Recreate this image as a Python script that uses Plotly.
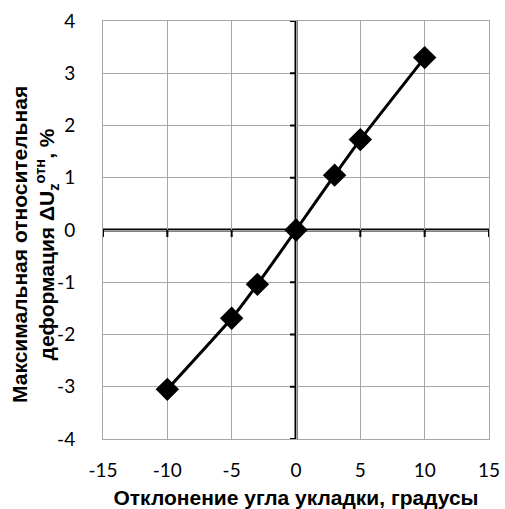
import plotly.graph_objects as go

x_vals = [-10, -5, -3, 0, 3, 5, 10]
y_vals = [-3.05, -1.69, -1.04, 0.0, 1.05, 1.73, 3.30]
x_ticks = [-15, -10, -5, 0, 5, 10, 15]
y_ticks = [-4, -3, -2, -1, 0, 1, 2, 3, 4]

x_title = "Отклонение угла укладки, градусы"
y_title = "Максимальная относительная<br>деформация ΔU<sub>z</sub><sup>отн</sup>, %"

tick_font = dict(family="Lato, Open Sans, sans-serif", size=19, color="#000")
title_font = dict(family="Liberation Sans, Arial, sans-serif", size=21, color="#000")

W, H = 505, 509
L, R, T, B = 103, 16, 21, 70

fig = go.Figure()
fig.add_trace(go.Scatter(
    x=x_vals, y=y_vals, mode="lines+markers",
    line=dict(color="#000", width=3, shape="spline", smoothing=0.4),
    marker=dict(symbol="diamond", size=18, color="#000"),
    showlegend=False,
))

shapes = []
for t in y_ticks:
    shapes.append(dict(type="line", xref="x", yref="y", xsizemode="pixel", xanchor=0,
                       x0=-6, x1=0, y0=t, y1=t, layer="between",
                       line=dict(color="#000", width=2)))
for t in x_ticks:
    shapes.append(dict(type="line", xref="x", yref="y", ysizemode="pixel", yanchor=0,
                       y0=-7, y1=0, x0=t, x1=t, layer="between",
                       line=dict(color="#000", width=2)))
# axes crossing at zero
shapes.append(dict(type="line", xref="x", yref="paper", x0=0, x1=0, y0=0, y1=1,
                   layer="between", line=dict(color="#000", width=3)))
shapes.append(dict(type="line", xref="paper", yref="y", x0=0, x1=1, y0=0, y1=0,
                   layer="between", line=dict(color="#000", width=3)))

pw = W - L - R
ph = H - T - B
fig.update_layout(
    width=W, height=H,
    margin=dict(l=L, r=R, t=T, b=B),
    paper_bgcolor="white", plot_bgcolor="white",
    shapes=shapes,
    annotations=[dict(
        text="<b>" + y_title + "</b>", textangle=-90, showarrow=False,
        xref="paper", yref="paper", x=(35 - L) / pw, y=(H - B - 245) / ph,
        xanchor="center", yanchor="middle", font=title_font, align="center",
    )],
    xaxis=dict(
        range=[-15, 15], tickvals=x_ticks, ticktext=[str(v) for v in x_ticks],
        ticks="", tickfont=tick_font, automargin=False,
        showgrid=True, gridcolor="#a6a6a6", gridwidth=1,
        zeroline=False, showline=True, linecolor="#a6a6a6", linewidth=1, mirror=True,
        ticklabelstandoff=14,
        title=dict(text="<b>" + x_title + "</b>", font=title_font, standoff=10),
    ),
    yaxis=dict(
        range=[-4, 4], tickvals=y_ticks, ticktext=[str(v) for v in y_ticks],
        ticks="", tickfont=tick_font, automargin=False,
        showgrid=True, gridcolor="#a6a6a6", gridwidth=1,
        zeroline=False, showline=True, linecolor="#a6a6a6", linewidth=1, mirror=True,
        ticklabelstandoff=23,
    ),
)

fig.write_html("out.html", config={"displayModeBar": False},
               post_script="document.body.style.margin='0';")
